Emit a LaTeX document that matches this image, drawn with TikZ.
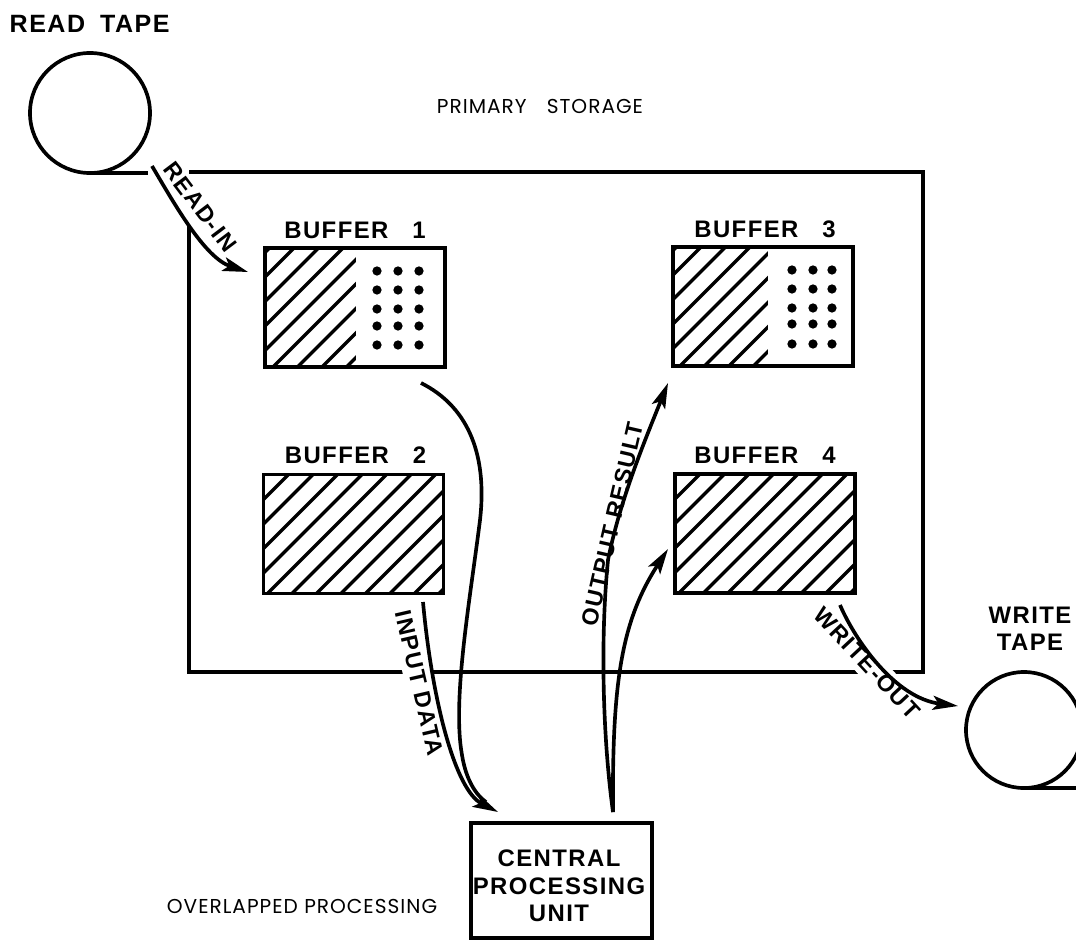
\documentclass[tikz,border=0pt]{standalone}
\usepackage{fontspec}
\newfontfamily\lblfont[LetterSpace=6.0]{Liberation Sans}
\newfontfamily\capfont[LetterSpace=5.0]{Poppins}
\usetikzlibrary{arrows.meta,calc}
\begin{document}
\begin{tikzpicture}[x=0.025cm,y=-0.025cm,
  box/.style={draw,line width=2.6pt,inner sep=0pt,outer sep=0pt},
  buffer/.style={box,line width=2.8pt,minimum width=4.5cm,minimum height=2.975cm},
  tape/.style={draw,circle,line width=2.6pt,inner sep=0pt,outer sep=0pt},
  ln/.style={line width=2.6pt,line join=miter},
  hatch/.style={line width=2.3pt},
  bdot/.style={circle,fill,inner sep=0pt,minimum size=6.6pt},
  lbl/.style={font=\lblfont\bfseries\fontsize{17}{19}\selectfont,inner sep=1pt},
  biglbl/.style={font=\lblfont\bfseries\fontsize{17.8}{20}\selectfont,inner sep=1pt},
  cpulbl/.style={font=\lblfont\bfseries\fontsize{17}{19.5}\selectfont,inner sep=1pt,align=center},
  caplbl/.style={font=\capfont\fontsize{14.3}{16}\selectfont,inner sep=1pt},
  flowlbl/.style={font=\lblfont\bfseries\fontsize{16.5}{19}\selectfont,fill=white,inner sep=4pt},
  flowline/.style={line width=2.6pt},
  flow/.style={flowline,-{Stealth[length=18pt,width=10pt,inset=4pt]}}
]
\useasboundingbox (0,0) rectangle (1076,940);

% primary storage (outline left open where READ-IN passes)
\node[inner sep=0pt,outer sep=0pt,minimum width=18.35cm,minimum height=12.5cm] (storage) at (556,422) {};
\draw[ln] ($(storage.north west)+(0,54)$) -- (storage.south west) -- (storage.south east)
   -- (storage.north east) -- (storage.north west);
\node[caplbl] (pslbl) at (540,106) {PRIMARY\quad STORAGE};
\node[caplbl] (oplbl) at (302,906) {OVERLAPPED PROCESSING};

% buffers
\node[buffer] (b1) at (355,307.5) {};
\node[buffer] (b3) at (763,306.5) {};
\node[buffer] (b2) at (353.5,534) {};
\node[buffer] (b4) at (765,533.5) {};

\node[lbl] (b1lbl) at ($(b1.north)+(0,-18)$) {BUFFER\quad 1};
\node[lbl] (b3lbl) at ($(b3.north)+(2,-18)$) {BUFFER\quad 3};
\node[lbl] (b2lbl) at ($(b2.north)+(2,-19)$) {BUFFER\quad 2};
\node[lbl] (b4lbl) at ($(b4.north)+(0,-19)$) {BUFFER\quad 4};

% hatching
\begin{scope}
  \clip (b1.south west) rectangle ($(b1.north west)+(91,0)$);
  \foreach \t in {-6,...,8} \draw[hatch] ($(b1.south west)+({8+\t*24.5},0)$) -- ++(200,-200);
\end{scope}
\begin{scope}
  \clip (b3.south west) rectangle ($(b3.north west)+(95,0)$);
  \foreach \t in {-6,...,8} \draw[hatch] ($(b3.south west)+({7+\t*24.5},0)$) -- ++(200,-200);
\end{scope}
\begin{scope}
  \clip (b2.south west) rectangle (b2.north east);
  \foreach \t in {-6,...,8} \draw[hatch] ($(b2.south west)+({4+\t*24.5},0)$) -- ++(200,-200);
\end{scope}
\begin{scope}
  \clip (b4.south west) rectangle (b4.north east);
  \foreach \t in {-6,...,8} \draw[hatch] ($(b4.south west)+({4+\t*24.5},0)$) -- ++(200,-200);
\end{scope}
\node[buffer] at (b1) {};
\node[buffer] at (b3) {};
\node[buffer] at (b2) {};
\node[buffer] at (b4) {};

% dots
\foreach \dx [count=\i] in {112,133,154}
  \foreach \dy [count=\j] in {23,42,61,78,97}
    \node[bdot] (b1d\i\j) at ($(b1.north west)+(\dx,\dy)$) {};
\foreach \dx [count=\i] in {119,140,159}
  \foreach \dy [count=\j] in {23,42,61,77,97}
    \node[bdot] (b3d\i\j) at ($(b3.north west)+(\dx,\dy)$) {};

% tapes
\node[tape,minimum size=3cm] (readtape) at (90,113) {};
\draw[ln] (readtape.south) -- ++(58,0);
\node[biglbl,anchor=west] (rtlbl) at (8,24) {READ\hspace{0.6em}TAPE};
\node[tape,minimum size=2.9cm] (writetape) at (1024,730) {};
\draw[ln] (writetape.south) -- ++(60,0);
\node[cpulbl] (wtlbl) at (1030,629) {WRITE\\TAPE};

% CPU
\node[box,minimum width=4.525cm,minimum height=2.875cm] (cpu) at (561.5,880.5) {};
\node[cpulbl] (cputxt) at (559,886) {CENTRAL\\PROCESSING\\UNIT};

% flow labels
\node[flowlbl,rotate=-53,fill=none] (readin) at (200,207) {READ-IN};
\node[flowlbl,rotate=-77] (inputdata) at (419,683) {INPUT DATA};
\node[flowlbl,rotate=77,fill=none] (outres) at (612,524) {OUTPUT RESULT};
\node[flowlbl,rotate=-47] (writeout) at (867,663) {WRITE-OUT};

% connectors
\coordinate (ri-s) at (152,166);
\coordinate (ri-e) at (248,272);
\draw[flow] (ri-s) .. controls (175,205) and (205,258) .. (ri-e);

\coordinate (b1-out) at (421,383);
\coordinate (b2-out) at (423,602);
\coordinate (cpu-in) at (498,812);
\coordinate (merge) at (486,802);
\draw[flowline] (b1-out) .. controls (465,405) and (488,450) .. (480,520)
   .. controls (470,600) and (452,700) .. (462,755)
   .. controls (466,780) and (476,795) .. (merge);
\draw[flow] (b2-out) .. controls (432,700) and (455,790) .. (cpu-in);

\coordinate (cpu-out) at (613,812);
\coordinate (b3-in) at (668,383);
\coordinate (b4-in) at (668,549);
\draw[flow] (cpu-out) .. controls (603,740) and (600,640) .. (608,560)
   .. controls (620,500) and (645,440) .. (b3-in);
\draw[flow] (cpu-out) .. controls (612,680) and (622,620) .. (b4-in);

\coordinate (b4-out) at (840,605);
\coordinate (wt-in) at (958,706);
\draw[flow] (b4-out) .. controls (855,640) and (895,698) .. (wt-in);
\end{tikzpicture}
\end{document}
